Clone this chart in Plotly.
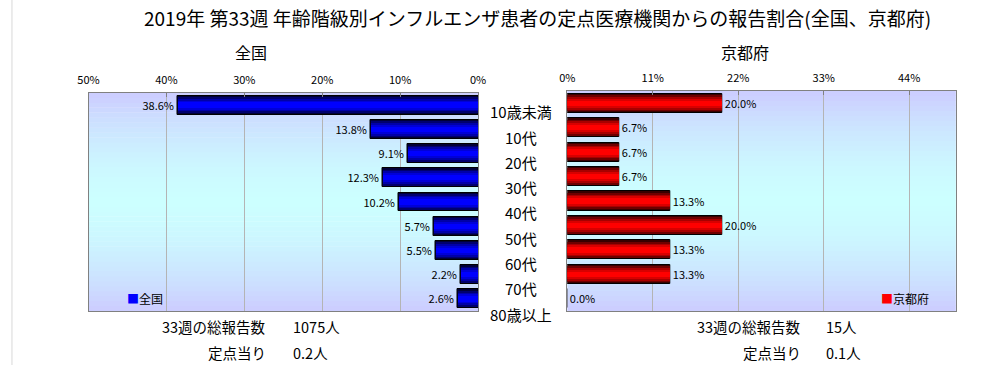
import plotly.graph_objects as go

# ---- data ----
categories = ["10歳未満", "10代", "20代", "30代", "40代", "50代", "60代", "70代", "80歳以上"]
zenkoku = [38.6, 13.8, 9.1, 12.3, 10.2, 5.7, 5.5, 2.2, 2.6]
kyoto = [20.0, 6.7, 6.7, 6.7, 13.3, 20.0, 13.3, 13.3, 0.0]
left_ticks = [50, 40, 30, 20, 10, 0]
right_ticks = [0, 11, 22, 33, 44]
title_text = "2019年 第33週 年齢階級別インフルエンザ患者の定点医療機関からの報告割合(全国、京都府)"
left_name = "全国"
right_name = "京都府"
left_total = "1075人"
right_total = "15人"
left_per = "0.2人"
right_per = "0.1人"

W, H = 1006, 365
FONT = "Noto Sans CJK JP"


def px_x(x):
    return x / W


def px_y(y):
    return 1 - y / H


fig = go.Figure()

# gradient layers for cylinder-like bars (outer dark -> inner bright)
blue_layers = [(0.78, "#000038"), (0.66, "#00006e"), (0.52, "#0000a8"), (0.38, "#0000d8"), (0.22, "#0000ff")]
red_layers = [(0.78, "#380000"), (0.66, "#6e0000"), (0.52, "#a80000"), (0.38, "#d80000"), (0.22, "#ff0000")]

for i, (w, c) in enumerate(blue_layers):
    fig.add_trace(go.Bar(
        y=categories, x=[v / 100 for v in zenkoku], orientation="h",
        width=w, marker=dict(color=c, line=dict(color="black", width=1 if i == 0 else 0)),
        text=[f"{v:.1f}%" for v in zenkoku] if i == 0 else None,
        textposition="outside" if i == 0 else "none",
        textfont=dict(family=FONT, size=11, color="black"),
        cliponaxis=False, xaxis="x", yaxis="y", showlegend=False, hoverinfo="skip"))

for i, (w, c) in enumerate(red_layers):
    fig.add_trace(go.Bar(
        y=categories, x=[v / 100 for v in kyoto], orientation="h",
        width=w, marker=dict(color=c, line=dict(color="black", width=1 if i == 0 else 0)),
        text=[f"{v:.1f}%" for v in kyoto] if i == 0 else None,
        textposition="outside" if i == 0 else "none",
        textfont=dict(family=FONT, size=11, color="black"),
        cliponaxis=False, xaxis="x2", yaxis="y2", showlegend=False, hoverinfo="skip"))

# plot-area geometry (pixels)
L_x0, L_x1, L_y0, L_y1 = 79, 476, 93, 311
R_x0, R_x1, R_y0, R_y1 = 567, 963, 91, 311

axis_common = dict(showline=True, linecolor="#808080", linewidth=1, mirror=True,
                   showgrid=True, gridcolor="#b4b4b4", gridwidth=1, zeroline=False,
                   side="top", ticks="inside", ticklen=4, tickcolor="#808080",
                   tickfont=dict(family=FONT, size=11, color="black"),
                   ticklabelstandoff=4)

fig.update_layout(
    width=W, height=H, autosize=False,
    margin=dict(l=0, r=0, t=0, b=0),
    paper_bgcolor="white", plot_bgcolor="rgba(0,0,0,0)",
    barmode="overlay", bargap=0,
    font=dict(family=FONT, color="black"),
    xaxis=dict(domain=[px_x(L_x0), px_x(L_x1)], range=[0.5, 0], anchor="y",
               tickvals=[t / 100 for t in left_ticks], ticktext=[f"{t}%" for t in left_ticks],
               **axis_common),
    yaxis=dict(domain=[px_y(L_y1), px_y(L_y0)], anchor="x", autorange="reversed",
               showticklabels=False, showline=True, linecolor="#808080", mirror=True,
               showgrid=False, ticks=""),
    xaxis2=dict(domain=[px_x(R_x0), px_x(R_x1)], range=[0, 0.5], anchor="y2",
                tickvals=[t / 100 for t in right_ticks], ticktext=[f"{t}%" for t in right_ticks],
                **axis_common),
    yaxis2=dict(domain=[px_y(R_y1), px_y(R_y0)], anchor="x2", autorange="reversed",
                showticklabels=False, showline=True, linecolor="#808080", mirror=True,
                showgrid=False, ticks=""),
)

# background vertical gradient (lavender -> cyan -> lavender)
N = 44
lav = (204, 204, 255)
cyan = (204, 255, 255)
shapes = []
for ax_x, ax_y in (("x", "y"), ("x2", "y2")):
    for k in range(N):
        p = (k + 0.5) / N
        d = abs(p - 0.5) / 0.5
        t = max(0.0, 1 - d ** 1.6)
        col = tuple(round(lav[j] + (cyan[j] - lav[j]) * t) for j in range(3))
        shapes.append(dict(type="rect", xref=f"{ax_x} domain", yref=f"{ax_y} domain",
                           x0=0, x1=1, y0=k / N, y1=(k + 1) / N + 0.002,
                           fillcolor=f"rgb{col}", line=dict(width=0), layer="below"))
# faint left edge of the chart frame
shapes.append(dict(type="line", xref="paper", yref="paper", x0=px_x(1), x1=px_x(1), y0=0, y1=1,
                   line=dict(color="#d8d8d8", width=1)))
fig.update_layout(shapes=shapes)

ann = []
ann.append(dict(text=title_text, x=px_x(537), y=px_y(17), xref="paper", yref="paper",
                showarrow=False, font=dict(size=19, family=FONT), xanchor="center", yanchor="middle"))
ann.append(dict(text=left_name, x=px_x(245), y=px_y(52), xref="paper", yref="paper",
                showarrow=False, font=dict(size=16, family=FONT), xanchor="center", yanchor="middle"))
ann.append(dict(text=right_name, x=px_x(748), y=px_y(52), xref="paper", yref="paper",
                showarrow=False, font=dict(size=16, family=FONT), xanchor="center", yanchor="middle"))

# category labels between the panels
for i, c in enumerate(categories):
    ann.append(dict(text=c, x=px_x(520), y=px_y(111.7 + i * 25.3), xref="paper", yref="paper",
                    showarrow=False, font=dict(size=15, family=FONT), xanchor="center", yanchor="middle"))

# legends
ann.append(dict(text="<span style='color:#0000ff'>■</span>" + left_name, x=px_x(116), y=px_y(298),
                xref="paper", yref="paper", showarrow=False, font=dict(size=12, family=FONT),
                xanchor="left", yanchor="middle"))
ann.append(dict(text="<span style='color:#ff0000'>■</span>" + right_name, x=px_x(885), y=px_y(298),
                xref="paper", yref="paper", showarrow=False, font=dict(size=12, family=FONT),
                xanchor="left", yanchor="middle"))

# footer texts
for lab, val, xr, xv, yy in (("33週の総報告数", left_total, 262, 285, 326),
                             ("定点当り", left_per, 262, 285, 352),
                             ("33週の総報告数", right_total, 807, 829, 326),
                             ("定点当り", right_per, 807, 829, 352)):
    ann.append(dict(text=lab, x=px_x(xr), y=px_y(yy), xref="paper", yref="paper", showarrow=False,
                    font=dict(size=14.5, family=FONT), xanchor="right", yanchor="middle"))
    ann.append(dict(text=val, x=px_x(xv), y=px_y(yy), xref="paper", yref="paper", showarrow=False,
                    font=dict(size=14.5, family=FONT), xanchor="left", yanchor="middle"))

fig.update_layout(annotations=ann)

fig.write_html("out.html", config={"displayModeBar": False},
               post_script="document.body.style.margin='0px';document.body.style.overflow='hidden';")
